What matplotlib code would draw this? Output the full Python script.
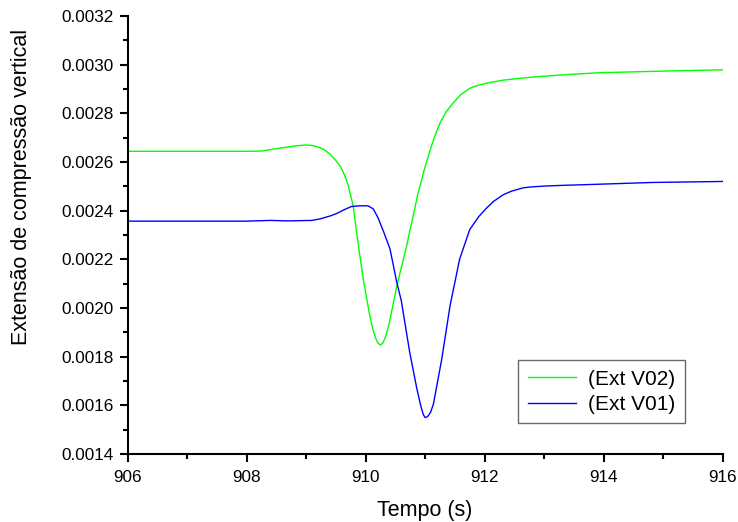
import matplotlib
matplotlib.use("Agg")
import matplotlib.pyplot as plt
from matplotlib.ticker import MultipleLocator, FormatStrFormatter

plt.rcParams['font.family'] = ['Liberation Sans', 'DejaVu Sans']

t_v02 = [906.0, 907.0, 908.0, 908.25, 908.5, 908.75, 908.9, 909.0, 909.1, 909.2,
         909.3, 909.4, 909.5, 909.57, 909.64, 909.71, 909.79, 909.88, 909.96, 910.07,
         910.12, 910.17, 910.21, 910.25, 910.29, 910.34, 910.4, 910.52, 910.69, 910.88,
         911.0, 911.08, 911.16, 911.25, 911.35, 911.47, 911.6, 911.75, 911.9, 912.03,
         912.3, 912.59, 912.9, 913.43, 913.94, 915.06, 916.0]
ext_v02 = [0.002644, 0.002644, 0.002644, 0.002645, 0.002655, 0.002664, 0.002668, 0.002670, 0.002668, 0.002662,
           0.002651, 0.002633, 0.002606, 0.002585, 0.002550, 0.002503, 0.002420, 0.002256, 0.002119, 0.001968,
           0.001915, 0.001875, 0.001855, 0.001848, 0.001856, 0.001885, 0.001940, 0.002085, 0.002256, 0.002470,
           0.002580, 0.002645, 0.002705, 0.002760, 0.002805, 0.002842, 0.002877, 0.002903, 0.002916, 0.002924,
           0.002936, 0.002944, 0.002951, 0.002960, 0.002967, 0.002974, 0.002979]

t_v01 = [906.0, 907.0, 908.0, 908.4, 908.7, 909.1, 909.23, 909.4, 909.51, 909.65,
         909.76, 909.9, 910.04, 910.13, 910.21, 910.3, 910.41, 910.52, 910.6, 910.74,
         910.86, 910.93, 910.97, 911.0, 911.04, 911.09, 911.14, 911.28, 911.42, 911.58,
         911.75, 911.9, 912.03, 912.15, 912.31, 912.45, 912.65, 912.8, 913.0, 913.3,
         913.71, 914.83, 916.0]
ext_v01 = [0.002357, 0.002357, 0.002357, 0.002360, 0.002358, 0.002360, 0.002366, 0.002378, 0.002388, 0.002405,
           0.002417, 0.002420, 0.002420, 0.002407, 0.002370, 0.002315, 0.002243, 0.002110, 0.002030, 0.001820,
           0.001670, 0.001595, 0.001562, 0.001550, 0.001553, 0.001570, 0.001605, 0.001790, 0.002010, 0.002200,
           0.002322, 0.002375, 0.002410, 0.002438, 0.002465, 0.002480, 0.002494, 0.002498, 0.002501, 0.002504,
           0.002507, 0.002516, 0.002520]

fig = plt.figure(figsize=(7.38, 5.22), dpi=100)
ax = fig.add_axes([0.173, 0.1303, 0.806, 0.839])

ax.plot(t_v02, ext_v02, color='#00ff00', lw=1.0, label='(Ext V02)')
ax.plot(t_v01, ext_v01, color='#0000ff', lw=1.0, label='(Ext V01)')

ax.set_xlim(906, 916)
ax.set_ylim(0.0014, 0.0032)
ax.xaxis.set_major_locator(MultipleLocator(2))
ax.xaxis.set_minor_locator(MultipleLocator(1))
ax.yaxis.set_major_locator(MultipleLocator(0.0002))
ax.yaxis.set_minor_locator(MultipleLocator(0.0001))
ax.yaxis.set_major_formatter(FormatStrFormatter('%.4f'))

for s in ['top', 'right']:
    ax.spines[s].set_visible(False)
for s in ['left', 'bottom']:
    ax.spines[s].set_linewidth(1.5)

ax.tick_params(which='major', direction='out', length=5.8, width=1.5, labelsize=12.3)
ax.tick_params(axis='y', which='major', pad=4.5)
ax.tick_params(axis='x', which='major', pad=5.5)
ax.tick_params(which='minor', direction='out', length=3.3, width=1.5)

ax.set_xlabel('Tempo (s)', fontsize=15.5, labelpad=11)
ax.set_ylabel('Extensão de compressão vertical', fontsize=15.5)
ax.yaxis.set_label_coords(-0.161, 0.61)

leg = ax.legend(loc='lower right', bbox_to_anchor=(0.9366, 0.070), fontsize=15,
                frameon=True, fancybox=False, shadow=False, handlelength=2.3,
                borderpad=0.45, labelspacing=0.3, handletextpad=0.6, borderaxespad=0)
leg.get_frame().set_edgecolor('#444444')
leg.get_frame().set_linewidth(1.0)

fig.savefig('out.png', dpi=100)
